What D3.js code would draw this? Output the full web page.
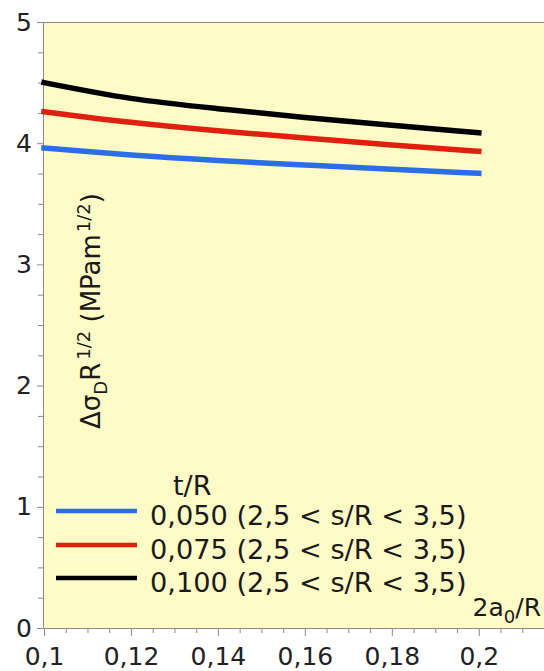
<!DOCTYPE html>
<html>
<head>
<meta charset="utf-8">
<script src="https://cdn.jsdelivr.net/npm/d3@7"></script>
<style>
  html, body { margin: 0; padding: 0; background: #ffffff; }
  svg { display: block; font-family: "DejaVu Sans", sans-serif; }
</style>
</head>
<body>
<svg id="chart" width="544" height="671"></svg>
<script>
// Crack-size ratio 2a0/R sampled along each curve
const ratios = [0.10, 0.12, 0.14, 0.16, 0.18, 0.20];

// Stress range ΔσD·R^1/2 (MPa·m^1/2) for each wall-thickness ratio t/R
const series050 = [3.96, 3.902, 3.857, 3.82, 3.785, 3.752];
const series075 = [4.26, 4.172, 4.102, 4.043, 3.985, 3.933];
const series100 = [4.50, 4.37, 4.285, 4.212, 4.148, 4.087];

const seriesNames = ["0,050 (2,5 < s/R < 3,5)", "0,075 (2,5 < s/R < 3,5)", "0,100 (2,5 < s/R < 3,5)"];
const seriesColors = ["#2a6ee8", "#e0200f", "#000000"];

const xTickValues = [0.10, 0.12, 0.14, 0.16, 0.18, 0.20];
const xTickLabels = ["0,1", "0,12", "0,14", "0,16", "0,18", "0,2"];
const yTickValues = [0, 1, 2, 3, 4, 5];
const yTickLabels = ["0", "1", "2", "3", "4", "5"];

const svg = d3.select("#chart");
const plotL = 44, plotT = 22, plotR = 544, plotB = 628;

const x = d3.scaleLinear().domain([0.10, 0.215]).range([plotL, plotR]);
const y = d3.scaleLinear().domain([0, 5]).range([plotB, plotT]);

// plot background
svg.append("rect")
  .attr("x", plotL).attr("y", plotT)
  .attr("width", plotR - plotL).attr("height", plotB - plotT)
  .attr("fill", "#fffbc6");

const axisColor = "#8a8a8a";

// top frame line
svg.append("line")
  .attr("x1", plotL).attr("x2", plotR)
  .attr("y1", plotT + 0.5).attr("y2", plotT + 0.5)
  .attr("stroke", axisColor).attr("stroke-width", 1);

// minor ticks
const xMinor = d3.range(0.10, 0.2151, 0.005).filter(v => Math.abs(Math.round(v / 0.02) * 0.02 - v) > 1e-6);
const yMinor = d3.range(0, 5.001, 0.25).filter(v => Math.abs(Math.round(v) - v) > 1e-6);

svg.append("g")
  .attr("transform", `translate(0,${plotB})`)
  .call(d3.axisBottom(x).tickValues(xMinor).tickSize(5).tickFormat(""))
  .call(g => g.select(".domain").remove())
  .call(g => g.selectAll("line").attr("stroke", axisColor));

svg.append("g")
  .attr("transform", `translate(${plotL},0)`)
  .call(d3.axisLeft(y).tickValues(yMinor).tickSize(6).tickFormat(""))
  .call(g => g.select(".domain").remove())
  .call(g => g.selectAll("line").attr("stroke", axisColor));

// major axes
const xAxis = svg.append("g")
  .attr("transform", `translate(0,${plotB})`)
  .call(d3.axisBottom(x).tickValues(xTickValues).tickSize(8).tickPadding(11)
    .tickFormat((d, i) => xTickLabels[i]))
  .call(g => g.select(".domain").attr("stroke", axisColor).attr("d", `M${plotL},0.5H${plotR}`))
  .call(g => g.selectAll("line").attr("stroke", axisColor));
xAxis.selectAll("text")
  .attr("font-size", 25).attr("fill", "#222")
  .attr("font-family", "DejaVu Sans");

const yAxis = svg.append("g")
  .attr("transform", `translate(${plotL},0)`)
  .call(d3.axisLeft(y).tickValues(yTickValues).tickSize(7).tickPadding(5)
    .tickFormat((d, i) => yTickLabels[i]))
  .call(g => g.select(".domain").attr("stroke", axisColor).attr("d", `M-0.5,${plotT}V${plotB}`))
  .call(g => g.selectAll("line").attr("stroke", axisColor));
yAxis.selectAll("text")
  .attr("font-size", 25).attr("fill", "#222")
  .attr("font-family", "DejaVu Sans");

// curves
const allSeries = [series050, series075, series100];
const line = d3.line()
  .x((d, i) => x(ratios[i]))
  .y(d => y(d))
  .curve(d3.curveNatural);

svg.append("g").selectAll("path")
  .data(allSeries)
  .join("path")
  .attr("d", line)
  .attr("fill", "none")
  .attr("stroke", (d, i) => seriesColors[i])
  .attr("stroke-width", 5.5)
  .attr("stroke-linecap", "square");

// legend
const legend = svg.append("g").attr("font-family", "DejaVu Sans").attr("fill", "#1a1a1a");
legend.append("text")
  .attr("x", 173).attr("y", 495)
  .attr("font-size", 27)
  .text("t/R");

const rowY = [511, 545, 578];
seriesNames.forEach((name, i) => {
  legend.append("line")
    .attr("x1", 56).attr("x2", 137)
    .attr("y1", rowY[i]).attr("y2", rowY[i])
    .attr("stroke", seriesColors[i]).attr("stroke-width", 4.5);
  legend.append("text")
    .attr("x", 150).attr("y", rowY[i] + 14)
    .attr("font-size", 27.2)
    .text(name);
});

// x-axis title: 2a0/R
const xTitle = svg.append("text")
  .attr("x", 541).attr("y", 616)
  .attr("text-anchor", "end")
  .attr("font-size", 25).attr("fill", "#1a1a1a");
xTitle.append("tspan").text("2a");
xTitle.append("tspan").attr("font-size", 18).attr("dy", 7).text("0");
xTitle.append("tspan").attr("dy", -7).text("/R");

// y-axis title: ΔσD R^1/2 (MPam^1/2)
const yTitle = svg.append("text")
  .attr("transform", "translate(100,311) rotate(-90)")
  .attr("text-anchor", "middle")
  .attr("font-size", 26).attr("fill", "#1a1a1a");
yTitle.append("tspan").text("Δσ");
yTitle.append("tspan").attr("font-size", 18).attr("dy", 7).text("D");
yTitle.append("tspan").attr("dy", -7).text("R");
yTitle.append("tspan").attr("font-size", 18).attr("dy", -10).attr("dx", 3).text("1/2");
yTitle.append("tspan").attr("dy", 10).text(" (MPam");
yTitle.append("tspan").attr("font-size", 18).attr("dy", -10).attr("dx", 2).text("1/2");
yTitle.append("tspan").attr("dy", 10).text(")");
</script>
</body>
</html>
